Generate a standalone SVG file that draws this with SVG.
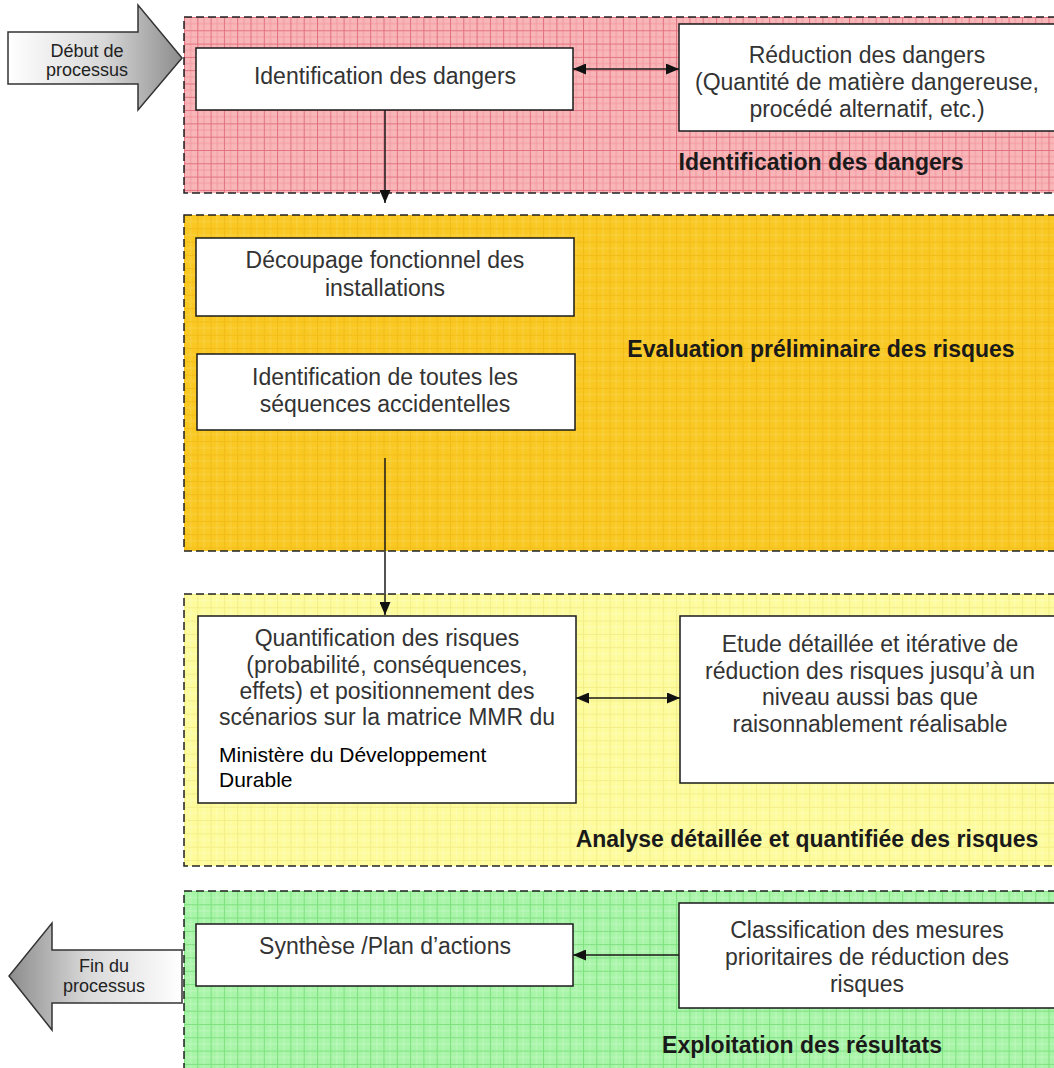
<svg xmlns="http://www.w3.org/2000/svg" width="1054" height="1068" viewBox="0 0 1054 1068">
<defs>
<style>
.t{font-family:"Liberation Sans",Arial,sans-serif;font-size:23px;fill:#333;text-anchor:middle}
.m{font-family:"Liberation Sans",Arial,sans-serif;font-size:21px;fill:#000}
.b{font-family:"Liberation Sans",Arial,sans-serif;font-size:23px;font-weight:bold;fill:#1a1a1a;text-anchor:middle}
.a{font-family:"Liberation Sans",Arial,sans-serif;font-size:18px;fill:#222;text-anchor:middle}
.box{fill:#fff;stroke:#1a1a1a;stroke-width:1.5}
.zone{stroke:#222;stroke-width:1.5;stroke-dasharray:8 4}
.con{stroke:#1a1a1a;stroke-width:1.5;fill:none}
.arr{stroke:#333;stroke-width:1.5}
</style>
<pattern id="pRed" patternUnits="userSpaceOnUse" x="184" y="17" width="13.3" height="13.3">
<rect width="13.3" height="13.3" fill="#f8b6b8"/>
<path d="M0 6.65H13.3M6.65 0V13.3" stroke="#f29aa2" stroke-width="1"/>
<path d="M0 0.5H13.3M0.5 0V13.3" stroke="#e2707e" stroke-width="1"/>
</pattern>
<pattern id="pOrange" patternUnits="userSpaceOnUse" x="184" y="215" width="13.3" height="13.3">
<rect width="13.3" height="13.3" fill="#f9c822"/>
<path d="M0 6.65H13.3M6.65 0V13.3" stroke="#fad24a" stroke-width="1"/>
<path d="M0 0.5H13.3M0.5 0V13.3" stroke="#f2bc18" stroke-width="1"/>
</pattern>
<pattern id="pYellow" patternUnits="userSpaceOnUse" x="184" y="594" width="13.3" height="13.3">
<rect width="13.3" height="13.3" fill="#fdfb9c"/>
<path d="M0 6.65H13.3M6.65 0V13.3" stroke="#fefdb8" stroke-width="1"/>
<path d="M0 0.5H13.3M0.5 0V13.3" stroke="#f2ee8a" stroke-width="1"/>
</pattern>
<pattern id="pGreen" patternUnits="userSpaceOnUse" x="184" y="891" width="13.3" height="13.3">
<rect width="13.3" height="13.3" fill="#a8f4a8"/>
<path d="M0 6.65H13.3M6.65 0V13.3" stroke="#c0f8c0" stroke-width="1"/>
<path d="M0 0.5H13.3M0.5 0V13.3" stroke="#7ee07e" stroke-width="1"/>
</pattern>
<linearGradient id="gStart" x1="0" y1="0" x2="1" y2="0">
<stop offset="0" stop-color="#ffffff"/>
<stop offset="0.55" stop-color="#d8d8d8"/>
<stop offset="1" stop-color="#8c8c8c"/>
</linearGradient>
<linearGradient id="gEnd" x1="1" y1="0" x2="0" y2="0">
<stop offset="0" stop-color="#ffffff"/>
<stop offset="0.55" stop-color="#d8d8d8"/>
<stop offset="1" stop-color="#8c8c8c"/>
</linearGradient>
<marker id="ah" markerUnits="userSpaceOnUse" markerWidth="13" markerHeight="11" refX="13" refY="5.5" orient="auto-start-reverse">
<path d="M0 0L13 5.5L0 11z" fill="#111"/>
</marker>
</defs>

<g id="zones">
<rect id="zone-identification" class="zone" x="184" y="17" width="880" height="176" fill="url(#pRed)"/>
<rect id="zone-evaluation" class="zone" x="184" y="215" width="880" height="336" fill="url(#pOrange)"/>
<rect id="zone-analyse" class="zone" x="184" y="594" width="880" height="272" fill="url(#pYellow)"/>
<rect id="zone-exploitation" class="zone" x="184" y="891" width="880" height="200" fill="url(#pGreen)"/>
</g>

<g id="zone-labels">
<text class="b" x="821" y="170">Identification des dangers</text>
<text class="b" x="821" y="357">Evaluation préliminaire des risques</text>
<text class="b" x="807" y="847">Analyse détaillée et quantifiée des risques</text>
<text class="b" x="802" y="1053">Exploitation des résultats</text>
</g>

<g id="start">
<polygon class="arr" points="8,32 138,32 138,5 182,58 138,110 138,84 8,84" fill="url(#gStart)"/>
<text class="a" x="87" y="57">Début de</text>
<text class="a" x="87" y="76">processus</text>
</g>

<g id="end">
<polygon class="arr" points="182,950 52,950 52,923 9,976 52,1030 52,1003 182,1003" fill="url(#gEnd)"/>
<text class="a" x="104" y="972">Fin du</text>
<text class="a" x="104" y="992">processus</text>
</g>

<g id="n-identification">
<rect class="box" x="196" y="48" width="377" height="62"/>
<text class="t" x="385" y="84">Identification des dangers</text>
</g>

<g id="n-reduction">
<rect class="box" x="679" y="24" width="390" height="107"/>
<text class="t" x="867" y="63">Réduction des dangers</text>
<text class="t" x="867" y="90">(Quantité de matière dangereuse,</text>
<text class="t" x="867" y="117">procédé alternatif, etc.)</text>
</g>

<g id="n-decoupage">
<rect class="box" x="196" y="238" width="378" height="78"/>
<text class="t" x="385" y="268">Découpage fonctionnel des</text>
<text class="t" x="385" y="296">installations</text>
</g>

<g id="n-sequences">
<rect class="box" x="197" y="354" width="378" height="76"/>
<text class="t" x="385" y="385">Identification de toutes les</text>
<text class="t" x="385" y="412">séquences accidentelles</text>
</g>

<g id="n-quantification">
<rect class="box" x="198" y="616" width="378" height="187"/>
<text class="t" x="387" y="646">Quantification des risques</text>
<text class="t" x="387" y="673">(probabilité, conséquences,</text>
<text class="t" x="387" y="699">effets) et positionnement des</text>
<text class="t" x="387" y="725">scénarios sur la matrice MMR du</text>
<text class="m" x="219" y="762">Ministère du Développement</text>
<text class="m" x="219" y="787">Durable</text>
</g>

<g id="n-etude">
<rect class="box" x="680" y="616" width="390" height="167"/>
<text class="t" x="870" y="652">Etude détaillée et itérative de</text>
<text class="t" x="870" y="679">réduction des risques jusqu’à un</text>
<text class="t" x="870" y="705">niveau aussi bas que</text>
<text class="t" x="870" y="732">raisonnablement réalisable</text>
</g>

<g id="n-synthese">
<rect class="box" x="196" y="924" width="377" height="62"/>
<text class="t" x="385" y="954">Synthèse /Plan d’actions</text>
</g>

<g id="n-classification">
<rect class="box" x="679" y="903" width="390" height="105"/>
<text class="t" x="867" y="938">Classification des mesures</text>
<text class="t" x="867" y="965">prioritaires de réduction des</text>
<text class="t" x="867" y="992">risques</text>
</g>

<g id="connectors">
<line class="con" x1="385" y1="110" x2="385" y2="203" marker-end="url(#ah)"/>
<line class="con" x1="573" y1="69" x2="679" y2="69" marker-start="url(#ah)" marker-end="url(#ah)"/>
<line class="con" x1="385" y1="458" x2="385" y2="615" marker-end="url(#ah)"/>
<line class="con" x1="576" y1="698" x2="680" y2="698" marker-start="url(#ah)" marker-end="url(#ah)"/>
<line class="con" x1="679" y1="955" x2="573" y2="955" marker-end="url(#ah)"/>
</g>
</svg>
